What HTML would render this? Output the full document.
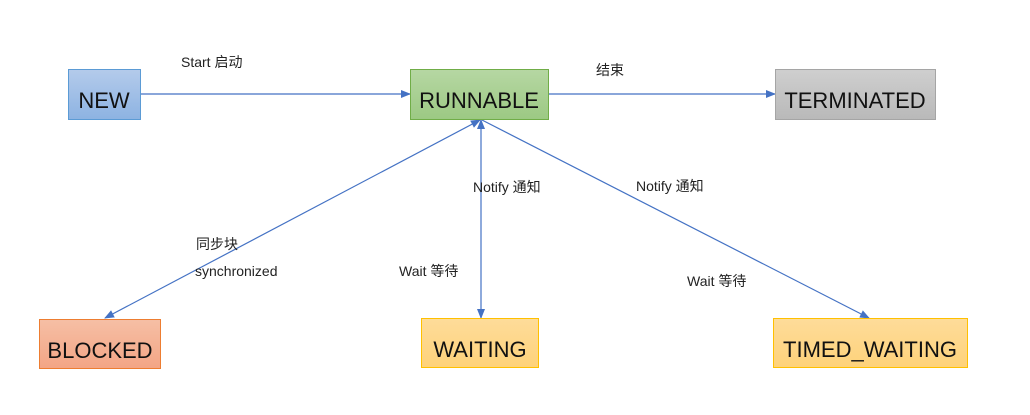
<!DOCTYPE html>
<html><head><meta charset="utf-8"><style>
body{margin:0;background:#fff;width:1030px;height:410px;overflow:hidden}
text{font-family:"Liberation Sans","Noto Sans CJK SC",sans-serif}
</style></head><body>
<svg width="1030" height="410" xmlns="http://www.w3.org/2000/svg">
<defs>
<marker id="a" markerWidth="10" markerHeight="8" refX="9" refY="4" orient="auto-start-reverse" markerUnits="userSpaceOnUse"><path d="M0,0 L10,4 L0,8 z" fill="#4472c4"/></marker>
<linearGradient id="gb" x1="0" y1="0" x2="0" y2="1"><stop offset="0" stop-color="#b4cbeb"/><stop offset="1" stop-color="#8db3e2"/></linearGradient>
<linearGradient id="gg" x1="0" y1="0" x2="0" y2="1"><stop offset="0" stop-color="#b6d7a3"/><stop offset="1" stop-color="#9cc983"/></linearGradient>
<linearGradient id="gr" x1="0" y1="0" x2="0" y2="1"><stop offset="0" stop-color="#cfcfcf"/><stop offset="1" stop-color="#b9b9b9"/></linearGradient>
<linearGradient id="go" x1="0" y1="0" x2="0" y2="1"><stop offset="0" stop-color="#f6bfa5"/><stop offset="1" stop-color="#f3a585"/></linearGradient>
<linearGradient id="gy" x1="0" y1="0" x2="0" y2="1"><stop offset="0" stop-color="#fedc9a"/><stop offset="1" stop-color="#fed27a"/></linearGradient>
</defs>
<g stroke="#4472c4" stroke-width="1.2" fill="none">
<line x1="140" y1="94" x2="410" y2="94" marker-end="url(#a)"/>
<line x1="548" y1="94" x2="775" y2="94" marker-end="url(#a)"/>
<line x1="480" y1="120" x2="105" y2="318" marker-start="url(#a)" marker-end="url(#a)"/>
<line x1="481" y1="120" x2="481" y2="318" marker-start="url(#a)" marker-end="url(#a)"/>
<line x1="482" y1="120" x2="869" y2="318" marker-end="url(#a)"/>
</g>
<rect x="68.5" y="69.5" width="72" height="50" fill="url(#gb)" stroke="#5b9bd5"/>
<rect x="410.5" y="69.5" width="138" height="50" fill="url(#gg)" stroke="#70ad47"/>
<rect x="775.5" y="69.5" width="160" height="50" fill="url(#gr)" stroke="#a5a5a5"/>
<rect x="39.5" y="319.5" width="121" height="49" fill="url(#go)" stroke="#ed7d31"/>
<rect x="421.5" y="318.5" width="117" height="49" fill="url(#gy)" stroke="#ffc000"/>
<rect x="773.5" y="318.5" width="194" height="49" fill="url(#gy)" stroke="#ffc000"/>
<g font-size="22" fill="#111" text-anchor="middle">
<text x="104" y="108">NEW</text>
<text x="479" y="108">RUNNABLE</text>
<text x="855" y="108">TERMINATED</text>
<text x="100" y="358">BLOCKED</text>
<text x="480" y="357">WAITING</text>
<text x="870" y="357">TIMED_WAITING</text>
</g>
<g font-size="14" fill="#222">
<text x="181" y="67">Start 启动</text>
<text x="596" y="75">结束</text>
<text x="473" y="192">Notify 通知</text>
<text x="636" y="191">Notify 通知</text>
<text x="196" y="249">同步块</text>
<text x="195" y="276">synchronized</text>
<text x="399" y="276">Wait 等待</text>
<text x="687" y="286">Wait 等待</text>
</g>
</svg>
</body></html>
